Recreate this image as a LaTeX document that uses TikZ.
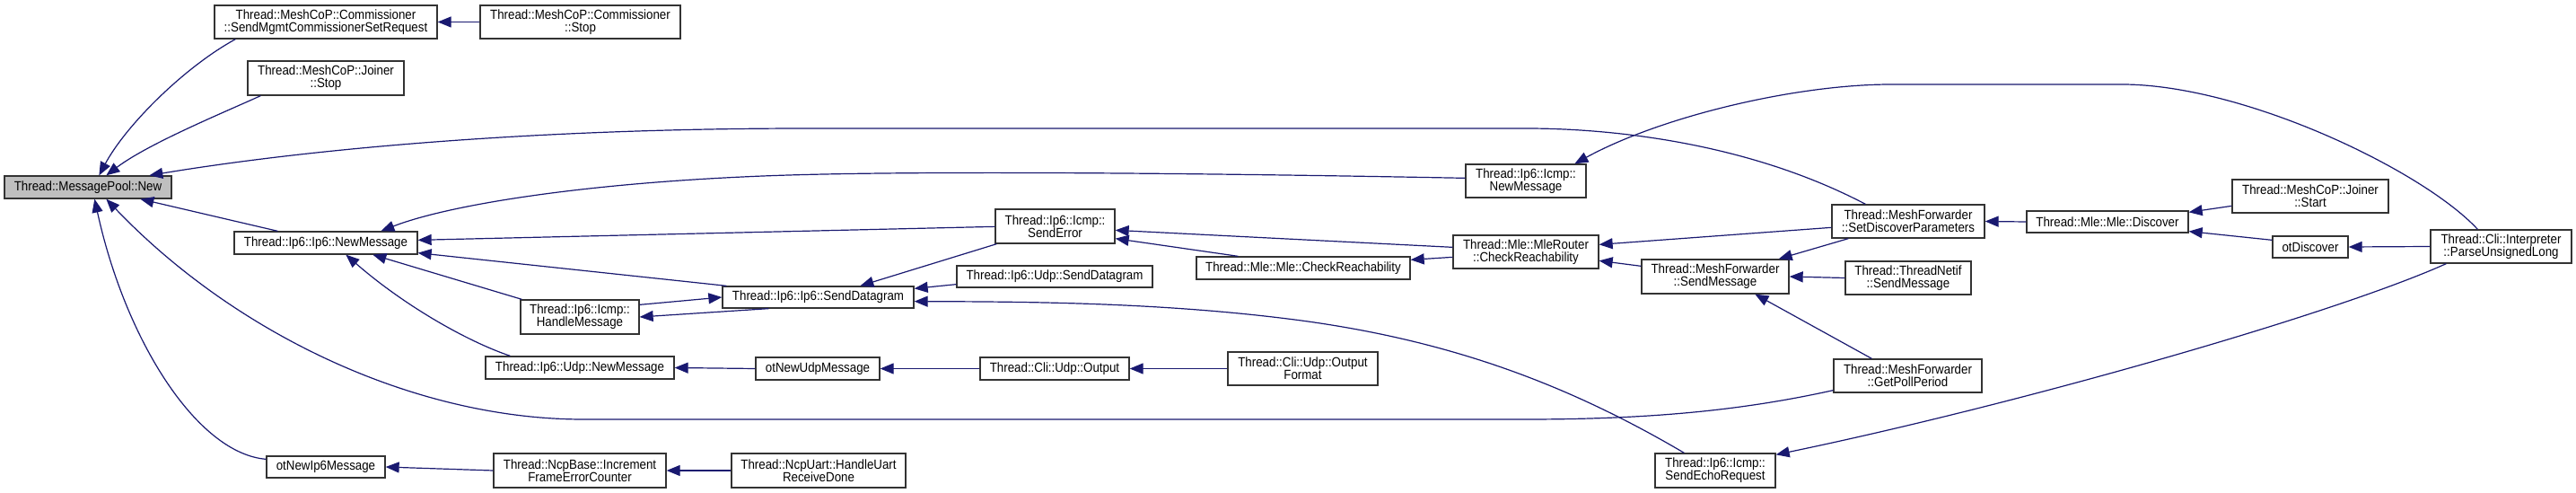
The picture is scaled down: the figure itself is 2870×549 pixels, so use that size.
\documentclass[tikz,border=0pt]{standalone}
\usepackage{fontspec}
\setmainfont{Liberation Sans}
\newfontfamily\dxfont[FakeStretch=0.9]{Liberation Sans}
\usetikzlibrary{arrows.meta,calc}
\definecolor{edgecol}{HTML}{191970}
\definecolor{nodefill}{HTML}{BFBFBF}
\newcommand\fnode[7][]{\node[fn,#1,minimum width={(#4-#2)*0.5pt},minimum height={(#5-#3)*0.5pt}] (#6) at ({(#2+#4)/2},{(#3+#5)/2}) {#7};}
\begin{document}
\begin{tikzpicture}[x=0.5pt,y=-0.5pt,
  fn/.style={draw=black!80, line width=0.65pt, fill=white, inner sep=0pt, align=center, font=\dxfont\fontsize{7.4}{7}\selectfont},
  edge/.style={draw=edgecol, line width=0.6pt, -{Triangle[length=7.5pt,width=6pt]}},
]
\path[fill=white] (0,0) rectangle (2870,549);
\useasboundingbox (0,0) rectangle (2870,549);

% nodes
\fnode[fill=nodefill]{5}{196}{191}{221}{New}{Thread::MessagePool::New}
\fnode{239}{6}{487}{43}{SendMgmt}{Thread::MeshCoP::Commissioner\\::SendMgmtCommissionerSetRequest}
\fnode{535}{6}{758}{43}{CommStop}{Thread::MeshCoP::Commissioner\\::Stop}
\fnode{276}{68}{450}{106}{JoinerStop}{Thread::MeshCoP::Joiner\\::Stop}
\fnode{261}{258}{465}{283}{Ip6NewMsg}{Thread::Ip6::Ip6::NewMessage}
\fnode{1633}{183}{1767}{220}{IcmpNewMsg}{Thread::Ip6::Icmp::\\NewMessage}
\fnode{1109}{233}{1242}{271}{SendError}{Thread::Ip6::Icmp::\\SendError}
\fnode{805}{319}{1018}{343}{SendDatagram}{Thread::Ip6::Ip6::SendDatagram}
\fnode{1066}{296}{1284}{320}{UdpSendDatagram}{Thread::Ip6::Udp::SendDatagram}
\fnode{1333}{286}{1571}{311}{CheckReach}{Thread::Mle::Mle::CheckReachability}
\fnode{580}{334}{712}{372}{HandleMsg}{Thread::Ip6::Icmp::\\HandleMessage}
\fnode{541}{397}{751}{422}{UdpNewMsg}{Thread::Ip6::Udp::NewMessage}
\fnode{297}{508}{429}{532}{otNewIpSix}{otNewIp6Message}
\fnode{550}{505}{742}{543}{IncrementFEC}{Thread::NcpBase::Increment\\FrameErrorCounter}
\fnode{842}{398}{980}{423}{otNewUdp}{otNewUdpMessage}
\fnode{1092}{398}{1258}{423}{CliUdpOutput}{Thread::Cli::Udp::Output}
\fnode{1368}{392}{1535}{429}{OutputFormat}{Thread::Cli::Udp::Output\\Format}
\fnode{815}{505}{1009}{543}{HandleUart}{Thread::NcpUart::HandleUart\\ReceiveDone}
\fnode{1619}{262}{1781}{299}{MleRouterCheck}{Thread::Mle::MleRouter\\::CheckReachability}
\fnode{2041}{228}{2211}{265}{SetDiscover}{Thread::MeshForwarder\\::SetDiscoverParameters}
\fnode{1829}{289}{1993}{327}{MFSendMsg}{Thread::MeshForwarder\\::SendMessage}
\fnode{2056}{291}{2196}{328}{TNSendMsg}{Thread::ThreadNetif\\::SendMessage}
\fnode{2043}{400}{2208}{437}{GetPollPeriod}{Thread::MeshForwarder\\::GetPollPeriod}
\fnode{1844}{505}{1978}{543}{SendEcho}{Thread::Ip6::Icmp::\\SendEchoRequest}
\fnode{2258}{235}{2438}{259}{MleDiscover}{Thread::Mle::Mle::Discover}
\fnode{2487}{200}{2661}{237}{JoinerStart}{Thread::MeshCoP::Joiner\\::Start}
\fnode{2532}{263}{2616}{287}{otDiscover}{otDiscover}
\fnode{2708}{256}{2865}{293}{ParseUL}{Thread::Cli::Interpreter\\::ParseUnsignedLong}

% edges into New
\draw[edge] ($(SendMgmt.south west)+(24,0)$) .. controls (205,75) and (140,140) .. ($(New.north west)+(106,0)$);
\draw[edge] ($(JoinerStop.south west)+(15,0)$) .. controls (250,125) and (165,160) .. ($(New.north west)+(114,0)$);
\draw[edge] ($(SetDiscover.north west)+(38,0)$) .. controls (1950,160) and (1800,143) .. (1700,143) -- (900,143) .. controls (600,143) and (350,165) .. ($(New.north west)+(162,0)$);
\draw[edge] ($(Ip6NewMsg.north west)+(49,0)$) -- ($(New.south west)+(152,0)$);
\draw[edge] ($(GetPollPeriod.south west)+(0,-3)$) .. controls (1950,455) and (1850,467) .. (1700,467) -- (650,467) .. controls (460,467) and (260,370) .. ($(New.south west)+(114,0)$);
\draw[edge] ($(otNewIpSix.north west)+(0,4)$) .. controls (220,505) and (140,380) .. ($(New.south west)+(101,0)$);

% edges into Ip6NewMsg
\draw[edge] ($(IcmpNewMsg.north west)+(0,16)$) .. controls (1300,192) and (1000,190) .. (850,196) .. controls (650,204) and (500,228) .. ($(Ip6NewMsg.north west)+(164,0)$);
\draw[edge] ($(SendError.north west)+(0,20)$) -- ($(Ip6NewMsg.north east)+(0,10)$);
\draw[edge] ($(SendDatagram.north west)+(5,0)$) -- ($(Ip6NewMsg.south east)+(0,-2)$);
\draw[edge] ($(HandleMsg.north west)+(2,0)$) -- ($(Ip6NewMsg.south west)+(155,0)$);
\draw[edge] ($(UdpNewMsg.north west)+(28,0)$) .. controls (520,380) and (450,340) .. ($(Ip6NewMsg.south west)+(125,0)$);

% edges into SendDatagram
\draw[edge] ($(SendError.south west)+(2,0)$) -- ($(SendDatagram.north west)+(154,0)$);
\draw[edge] ($(UdpSendDatagram.south west)+(0,-4)$) -- ($(SendDatagram.north east)+(0,3)$);
\draw[edge] ($(HandleMsg.north east)+(0,6)$) -- (SendDatagram.west);
\draw[edge] ($(SendDatagram.south west)+(52,0)$) -- (HandleMsg.east);
\draw[edge] ($(SendEcho.north west)+(33,0)$) .. controls (1750,430) and (1620,380) .. (1450,357) .. controls (1300,337) and (1150,336) .. ($(SendDatagram.south east)+(0,-8)$);

% edges into SendError / CheckReach
\draw[edge] ($(CheckReach.north west)+(47,0)$) -- ($(SendError.south east)+(0,-6)$);
\draw[edge] ($(MleRouterCheck.north west)+(0,14)$) -- ($(SendError.north east)+(0,24)$);
\draw[edge] ($(MleRouterCheck.north west)+(0,25)$) -- ($(CheckReach.north east)+(0,4)$);

% edges into MleRouterCheck / MFSendMsg
\draw[edge] ($(SetDiscover.north west)+(0,26)$) -- ($(MleRouterCheck.north east)+(0,11)$);
\draw[edge] ($(MFSendMsg.north west)+(0,8)$) -- ($(MleRouterCheck.north east)+(0,29)$);
\draw[edge] ($(SetDiscover.south west)+(19,0)$) -- ($(MFSendMsg.north east)+(-12,0)$);
\draw[edge] (TNSendMsg.west) -- (MFSendMsg.east);
\draw[edge] ($(GetPollPeriod.north west)+(43,0)$) -- ($(MFSendMsg.south west)+(127,0)$);

% right part
\draw[edge] (MleDiscover.west) -- (SetDiscover.east);
\draw[edge] ($(JoinerStart.north west)+(0,30)$) -- ($(MleDiscover.north east)+(0,2)$);
\draw[edge] ($(otDiscover.north west)+(0,5)$) -- ($(MleDiscover.south east)+(0,-2)$);
\draw[edge] (ParseUL.west) -- (otDiscover.east);
\draw[edge] ($(ParseUL.north west)+(53,0)$) .. controls (2700,190) and (2500,94) .. (2364,94) -- (2107,94) .. controls (2000,94) and (1850,130) .. ($(IcmpNewMsg.north west)+(122,0)$);
\draw[edge] ($(ParseUL.south west)+(18,0)$) .. controls (2600,350) and (2250,450) .. ($(SendEcho.north east)+(0,2)$);

% chains
\draw[edge] (otNewUdp.west) -- (UdpNewMsg.east);
\draw[edge] (CliUdpOutput.west) -- (otNewUdp.east);
\draw[edge] (OutputFormat.west) -- (CliUdpOutput.east);
\draw[edge] (IncrementFEC.west) -- (otNewIpSix.east);
\draw[edge] (HandleUart.west) -- (IncrementFEC.east);
\draw[edge] (CommStop.west) -- (SendMgmt.east);
\end{tikzpicture}
\end{document}
